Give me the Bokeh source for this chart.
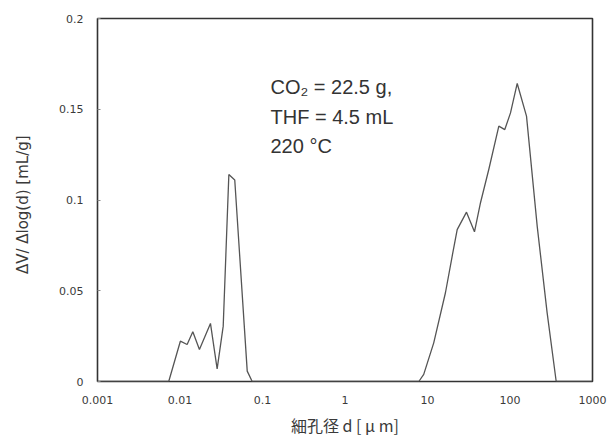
from bokeh.plotting import figure
from bokeh.models import FixedTicker, Label
from bokeh.embed import file_html
from bokeh.resources import INLINE

# pore diameter d [um] and dV/dlog(d) [mL/g]
diameter = [0.001, 0.0073, 0.0101, 0.0122, 0.0143, 0.0172, 0.0234, 0.0282, 0.0334,
            0.0391, 0.0461, 0.0653, 0.075, 0.5, 7.85, 9.0, 11.9, 16.5, 19.9, 22.9,
            29.7, 37.1, 43.9, 55.3, 73.2, 86.5, 101.4, 122.3, 158.5, 213.6, 282.0,
            363.0, 1000.0]
dv_dlogd = [0.0, 0.0, 0.0222, 0.0204, 0.0274, 0.0176, 0.032, 0.007, 0.0305,
            0.114, 0.111, 0.0057, 0.0, 0.0, 0.0, 0.0039, 0.0213, 0.0489, 0.069, 0.0837,
            0.0933, 0.0825, 0.0985, 0.1168, 0.1407, 0.1388, 0.148, 0.1642, 0.1462, 0.0856, 0.0378,
            0.0, 0.0]

x_ticks = [0.001, 0.01, 0.1, 1, 10, 100, 1000]
x_tick_labels = ["0.001", "0.01", "0.1", "1", "10", "100", "1000"]
y_ticks = [0, 0.05, 0.1, 0.15, 0.2]
y_tick_labels = ["0", "0.05", "0.1", "0.15", "0.2"]

notes = ["CO\u2082 = 22.5 g,", "THF = 4.5 mL", "220 \u00b0C"]
note_x = 0.125
note_y = [0.1625, 0.146, 0.130]

p = figure(width=613, height=439, x_axis_type="log", x_range=(0.001, 1000), y_range=(0, 0.2),
           output_backend="svg", toolbar_location=None,
           min_border_left=97, min_border_right=21, min_border_top=18, min_border_bottom=57)

p.background_fill_color = "white"
p.border_fill_color = "white"
p.outline_line_color = "#333333"
p.outline_line_width = 1.6
p.grid.visible = False

p.line(diameter, dv_dlogd, line_color="#555555", line_width=1.3)

xa = p.xaxis[0]
xa.ticker = FixedTicker(ticks=x_ticks, minor_ticks=[])
xa.major_label_overrides = {t: l for t, l in zip(x_ticks, x_tick_labels)}
xa.axis_line_color = None
xa.major_tick_line_color = None
xa.minor_tick_line_color = None
xa.major_tick_out = 0
xa.major_label_standoff = 14
xa.major_label_text_font = "DejaVu Sans"
xa.major_label_text_font_size = "11px"
xa.major_label_text_color = "#3a3a3a"
xa.axis_label = "細孔径 d [ μ m]"
xa.axis_label_text_font = "Noto Sans CJK JP"
xa.axis_label_text_font_size = "16px"
xa.axis_label_text_font_style = "normal"
xa.axis_label_text_color = "#3a3a3a"
xa.axis_label_standoff = 6

ya = p.yaxis[0]
ya.ticker = FixedTicker(ticks=y_ticks, minor_ticks=[])
ya.major_label_overrides = {t: l for t, l in zip(y_ticks, y_tick_labels)}
ya.axis_line_color = None
ya.major_tick_line_color = "#888888"
ya.major_tick_in = 3
ya.major_tick_out = 0
ya.minor_tick_line_color = None
ya.major_label_standoff = 14
ya.major_label_text_font = "DejaVu Sans"
ya.major_label_text_font_size = "11px"
ya.major_label_text_color = "#3a3a3a"
ya.axis_label = "ΔV/ Δlog(d)   [mL/g]"
ya.axis_label_text_font = "DejaVu Sans"
ya.axis_label_text_font_size = "15px"
ya.axis_label_text_font_style = "normal"
ya.axis_label_text_color = "#3a3a3a"
ya.axis_label_standoff = 24

for txt, yy in zip(notes, note_y):
    p.add_layout(Label(x=note_x, y=yy, text=txt, text_font="Liberation Sans",
                       text_font_size="20px", text_color="#333333",
                       text_baseline="middle", text_align="left"))

open("out.html", "w").write(file_html(p, INLINE))
